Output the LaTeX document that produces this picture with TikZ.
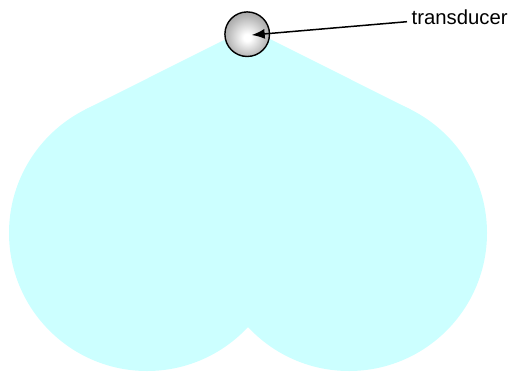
\documentclass[tikz,border=0pt]{standalone}
\usepackage{fontspec}
\setmainfont{Liberation Sans}
\usetikzlibrary{arrows.meta}
\definecolor{lobecol}{RGB}{204,255,255}
\pgfdeclareradialshading{ballshade}{\pgfpoint{0bp}{-4bp}}{color(0bp)=(white); color(4bp)=(white); color(22bp)=(gray!55!white); color(40bp)=(gray); color(52bp)=(gray!65!black); color(60bp)=(gray!55!black)}
\tikzset{
  lobe/.style={fill=lobecol},
  ballnode/.style={circle, draw=black, line width=1.4pt, minimum size=44.6pt, inner sep=0pt, shading=ballshade},
  lbltext/.style={font=\fontsize{20.3}{24}\selectfont, inner sep=0pt, anchor=base west},
  arr/.style={line width=1.5pt, -{Latex[length=13pt,width=10pt]}}
}
\begin{document}
\begin{tikzpicture}[x=1pt,y=-1pt]
\useasboundingbox (0,0) rectangle (516,372);
% radiation pattern
\coordinate (A) at (248,28);
\coordinate (T1) at (85.2,109.6);
\coordinate (T2) at (410.8,109.6);
\coordinate (C1) at (147,233);
\coordinate (C2) at (349,233);
\fill[lobe] (A) -- (T1) -- (C1) -- (C2) -- (T2) -- cycle;
\fill[lobe] (C1) circle[radius=138pt];
\fill[lobe] (C2) circle[radius=138pt];
% transducer
\node[ballnode] (ball) at (247.2,34.2) {};
\node[lbltext] (lbl) at (411.5,24.3) {transducer};
\draw[arr] ([shift={(-4.5,-2.6)}]lbl.base west) -- ([shift={(4.5,0.8)}]ball.center);
\end{tikzpicture}
\end{document}
